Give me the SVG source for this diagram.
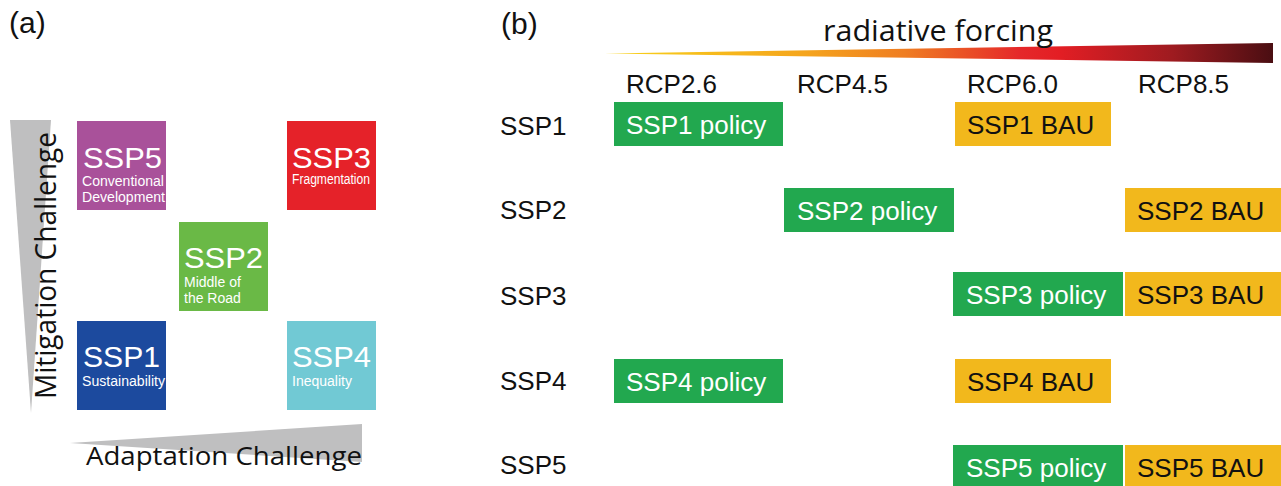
<svg xmlns="http://www.w3.org/2000/svg" width="1281" height="486" viewBox="0 0 1281 486">
  <defs>
    <linearGradient id="forcingGrad" x1="605" y1="0" x2="1273" y2="0" gradientUnits="userSpaceOnUse">
      <stop offset="0" stop-color="#F8D31A"/>
      <stop offset="0.3" stop-color="#F5A51D"/>
      <stop offset="0.45" stop-color="#EF7D22"/>
      <stop offset="0.62" stop-color="#E5282A"/>
      <stop offset="0.68" stop-color="#E31E24"/>
      <stop offset="0.85" stop-color="#9E1B20"/>
      <stop offset="1" stop-color="#4A0E12"/>
    </linearGradient>
    <style>
      .panel { font-family: "Liberation Sans", Arial, sans-serif; font-size: 30px; fill: #111; }
      .axis { font-family: "Open Sans", "Noto Sans", sans-serif; fill: #111; }
      .wedge { fill: #BFBFC0; }
      .big { font-family: "Liberation Sans", Arial, sans-serif; font-size: 30px; fill: #fff; }
      .small { font-family: "Liberation Sans", Arial, sans-serif; font-size: 14px; fill: #fff; }
      .lbl { font-family: "Liberation Sans", Arial, sans-serif; font-size: 26px; fill: #111; }
      .policy rect { fill: #22A84F; }
      .policy text { font-family: "Liberation Sans", Arial, sans-serif; font-size: 26px; fill: #fff; }
      .bau rect { fill: #F2B81C; }
      .bau text { font-family: "Liberation Sans", Arial, sans-serif; font-size: 26px; fill: #111; }
    </style>
  </defs>

  <!-- panel captions -->
  <text class="panel" x="9" y="33">(a)</text>
  <text class="panel" x="501" y="34">(b)</text>

  <!-- (a) challenge axes -->
  <g id="mitigation-axis">
    <polygon class="wedge" points="10,120 51,120 31,413"/>
    <text class="axis" font-size="29" x="56" y="399" transform="rotate(-90 56 399)" textLength="267" lengthAdjust="spacingAndGlyphs">Mitigation Challenge</text>
  </g>
  <g id="adaptation-axis">
    <polygon class="wedge" points="70,443 362,424 362,462"/>
    <text class="axis" font-size="26" x="86" y="465" textLength="276" lengthAdjust="spacingAndGlyphs">Adaptation Challenge</text>
  </g>

  <!-- (a) SSP quadrant -->
  <g id="ssp5">
    <rect x="77" y="121" width="89" height="89" fill="#A9519A"/>
    <text class="big" x="83" y="168" textLength="79" lengthAdjust="spacingAndGlyphs">SSP5</text>
    <text class="small" x="82" y="186" textLength="82" lengthAdjust="spacingAndGlyphs">Conventional</text>
    <text class="small" x="82" y="202" textLength="83" lengthAdjust="spacingAndGlyphs">Development</text>
  </g>
  <g id="ssp3">
    <rect x="287" y="121" width="89" height="89" fill="#E52229"/>
    <text class="big" x="292" y="168" textLength="79" lengthAdjust="spacingAndGlyphs">SSP3</text>
    <text class="small" x="292" y="184" font-size="12" textLength="78" lengthAdjust="spacingAndGlyphs">Fragmentation</text>
  </g>
  <g id="ssp2">
    <rect x="179" y="222" width="89" height="89" fill="#6AB946"/>
    <text class="big" x="184" y="268" textLength="79" lengthAdjust="spacingAndGlyphs">SSP2</text>
    <text class="small" x="184" y="287">Middle of</text>
    <text class="small" x="184" y="303">the Road</text>
  </g>
  <g id="ssp1">
    <rect x="77" y="321" width="89" height="89" fill="#1C4A9E"/>
    <text class="big" x="83" y="367" textLength="77" lengthAdjust="spacingAndGlyphs">SSP1</text>
    <text class="small" x="82" y="386" textLength="83" lengthAdjust="spacingAndGlyphs">Sustainability</text>
  </g>
  <g id="ssp4">
    <rect x="287" y="321" width="89" height="89" fill="#71C9D4"/>
    <text class="big" x="292" y="367" textLength="79" lengthAdjust="spacingAndGlyphs">SSP4</text>
    <text class="small" x="292" y="386">Inequality</text>
  </g>

  <!-- (b) radiative forcing scale -->
  <g id="forcing-scale">
    <polygon points="605,53.5 1273,43 1273,63" fill="url(#forcingGrad)"/>
    <text class="axis" font-size="30" x="823" y="41" textLength="230" lengthAdjust="spacingAndGlyphs">radiative forcing</text>
  </g>

  <g id="rcp-labels">
    <text class="lbl" x="626" y="93">RCP2.6</text>
    <text class="lbl" x="797" y="93">RCP4.5</text>
    <text class="lbl" x="967" y="93">RCP6.0</text>
    <text class="lbl" x="1138" y="93">RCP8.5</text>
  </g>

  <g id="ssp-labels">
    <text class="lbl" x="500" y="135">SSP1</text>
    <text class="lbl" x="500" y="219">SSP2</text>
    <text class="lbl" x="500" y="305">SSP3</text>
    <text class="lbl" x="500" y="390">SSP4</text>
    <text class="lbl" x="500" y="474">SSP5</text>
  </g>

  <!-- (b) scenario cells -->
  <g id="ssp1-policy" class="policy">
    <rect x="614" y="102" width="169" height="44"/>
    <text x="626" y="134">SSP1 policy</text>
  </g>
  <g id="ssp1-bau" class="bau">
    <rect x="955" y="102" width="156" height="44"/>
    <text x="967" y="134">SSP1 BAU</text>
  </g>
  <g id="ssp2-policy" class="policy">
    <rect x="784" y="188" width="170" height="44"/>
    <text x="797" y="220">SSP2 policy</text>
  </g>
  <g id="ssp2-bau" class="bau">
    <rect x="1125" y="188" width="156" height="44"/>
    <text x="1137" y="220">SSP2 BAU</text>
  </g>
  <g id="ssp3-policy" class="policy">
    <rect x="953" y="272" width="170" height="44"/>
    <text x="966" y="304">SSP3 policy</text>
  </g>
  <g id="ssp3-bau" class="bau">
    <rect x="1125" y="272" width="156" height="44"/>
    <text x="1137" y="304">SSP3 BAU</text>
  </g>
  <g id="ssp4-policy" class="policy">
    <rect x="614" y="359" width="169" height="44"/>
    <text x="626" y="391">SSP4 policy</text>
  </g>
  <g id="ssp4-bau" class="bau">
    <rect x="955" y="359" width="156" height="44"/>
    <text x="967" y="391">SSP4 BAU</text>
  </g>
  <g id="ssp5-policy" class="policy">
    <rect x="953" y="445" width="170" height="44"/>
    <text x="966" y="477">SSP5 policy</text>
  </g>
  <g id="ssp5-bau" class="bau">
    <rect x="1125" y="445" width="156" height="44"/>
    <text x="1137" y="477">SSP5 BAU</text>
  </g>
</svg>
